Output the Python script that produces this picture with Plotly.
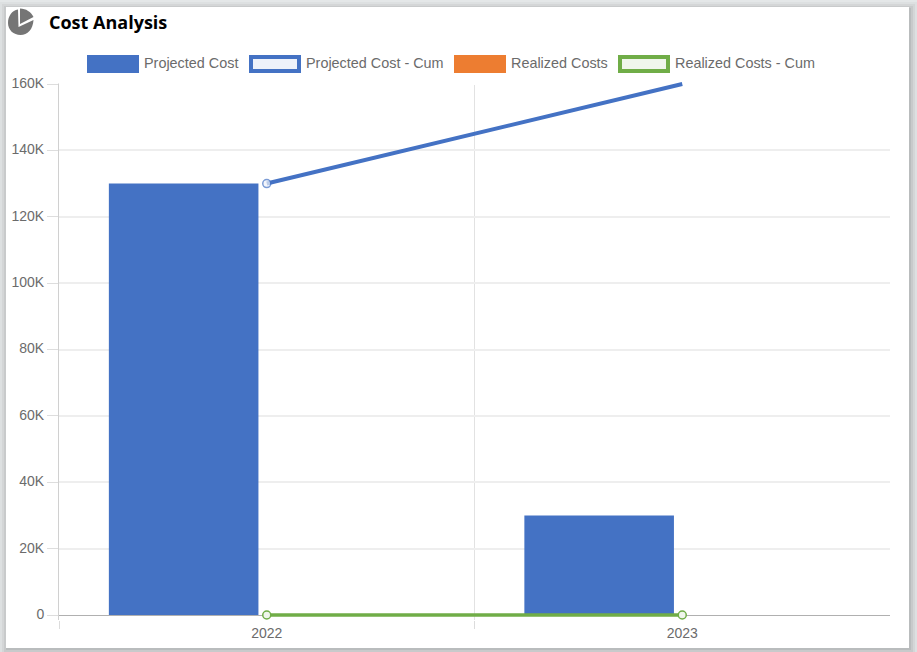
import plotly.graph_objects as go

WIDTH, HEIGHT = 917, 652
# plot area is a little taller than the axis range so the thick lines at 0 and 160K are not cut
LEFT, RIGHT, TOP, BOTTOM = 59, 890, 79, 620
Y_MAX = 160000
Y_PAD = 5 * Y_MAX / 531

years = ["2022", "2023"]
projected_cost = [130000, 30000]
projected_cum = [130000, 160000]
realized_costs = [0, 0]
realized_cum = [0, 0]
y_ticks = [0, 20000, 40000, 60000, 80000, 100000, 120000, 140000, 160000]
y_labels = ["0", "20K", "40K", "60K", "80K", "100K", "120K", "140K", "160K"]

BLUE = "#4472c4"
ORANGE = "#ed7d31"
GREEN = "#70ad47"
TEXT = "#6b6b6b"
FONT = "Liberation Sans, Arial, sans-serif"


def px(x):
    return (x - LEFT) / (RIGHT - LEFT)


def py(y):
    return (BOTTOM - y) / (BOTTOM - TOP)


def rect(x0, y0, x1, y1, fill, line=None, width=0, layer="below"):
    return dict(type="rect", xref="paper", yref="paper", x0=px(x0), x1=px(x1),
                y0=py(y1), y1=py(y0), fillcolor=fill, layer=layer,
                line=dict(color=line or fill, width=width))


def path(d, fill, layer="above"):
    return dict(type="path", xref="paper", yref="paper", path=d, fillcolor=fill,
                layer=layer, line=dict(width=0))


fig = go.Figure()
fig.add_bar(name="Projected Cost", x=years, y=projected_cost, marker=dict(color=BLUE, line=dict(width=0)))
fig.add_bar(name="Realized Costs", x=years, y=realized_costs, marker=dict(color=ORANGE, line=dict(width=0)))
fig.add_scatter(name="Projected Cost - Cum", x=years, y=projected_cum, mode="lines+markers", cliponaxis=False,
                line=dict(color=BLUE, width=4),
                marker=dict(size=[8, 0], color="#eef2fa", line=dict(color=BLUE, width=1.5)))
fig.add_scatter(name="Realized Costs - Cum", x=years, y=realized_cum, mode="lines+markers", cliponaxis=False,
                line=dict(color=GREEN, width=3.5),
                marker=dict(size=8, color="#f0f6ec", line=dict(color=GREEN, width=1.5)))

# card behind the chart, soft shadow made of stacked translucent boxes
shapes = []
for grow, alpha in [(8, 0.04), (6, 0.06), (4, 0.08), (2, 0.10)]:
    shapes.append(rect(6 - grow + 2, 7 - grow + 3, 909 + grow, 648 + grow, f"rgba(60,70,70,{alpha})"))
shapes.append(rect(6, 7, 909, 648, "#ffffff"))

# legend drawn by hand, the swatches are much wider than plotly's
legend_items = [
    ("Projected Cost", 87, BLUE, None),
    ("Projected Cost - Cum", 249, "#eef2fa", BLUE),
    ("Realized Costs", 454, ORANGE, None),
    ("Realized Costs - Cum", 618, "#f0f6ec", GREEN),
]
annotations = []
for name, x, fill, edge in legend_items:
    if edge:
        shapes.append(rect(x + 2, 57, x + 50, 71, fill, edge, 4, "above"))
    else:
        shapes.append(rect(x, 55, x + 52, 73, fill, layer="above"))
    annotations.append(dict(text=name, xref="paper", yref="paper", x=px(x + 55), y=py(63.5),
                            xanchor="left", yanchor="middle", showarrow=False,
                            font=dict(family=FONT, size=14.4, color=TEXT)))

annotations.append(dict(text="<b>Cost Analysis</b>", xref="paper", yref="paper", x=px(47), y=py(21.5),
                        xanchor="left", yanchor="middle", showarrow=False,
                        font=dict(family="Open Sans, sans-serif", size=18, color="#000000")))

# pie icon next to the title
ICON = "#757575"
shapes.append(path(
    f"M {px(18)} {py(9.5)} "
    f"C {px(12)} {py(10.5)} {px(8)} {py(16)} {px(8)} {py(23)} "
    f"C {px(8)} {py(30)} {px(13.5)} {py(35)} {px(20.5)} {py(35)} "
    f"C {px(27.5)} {py(35)} {px(33)} {py(29.5)} {px(33.5)} {py(20)} "
    f"L {px(18.5)} {py(27)} Z", ICON))
shapes.append(path(
    f"M {px(20)} {py(8.5)} C {px(26)} {py(8.5)} {px(31)} {py(12)} {px(33.5)} {py(17)} "
    f"L {px(20)} {py(24)} Z", ICON))

# the original has no line on 160K and nothing above it, and no tick at the far right
# "between" needs plain axis refs, paper refs end up below the grid
shapes.append(dict(type="rect", xref="x", yref="y", x0=-0.5, x1=1.5, y0=Y_MAX - 300, y1=Y_MAX + Y_PAD,
                   fillcolor="#ffffff", layer="between", line=dict(width=0)))
shapes.append(rect(57, TOP - 1, 61, 83.5, "#ffffff", layer="above"))
shapes.append(rect(RIGHT - 1, BOTTOM, RIGHT + 3, BOTTOM + 10, "#ffffff", layer="above"))

fig.update_layout(
    width=WIDTH, height=HEIGHT, autosize=False,
    margin=dict(l=LEFT, r=WIDTH - RIGHT, t=TOP, b=HEIGHT - BOTTOM, pad=0),
    paper_bgcolor="#e4e7e8", plot_bgcolor="rgba(0,0,0,0)",
    barmode="group", bargap=0.2, bargroupgap=0.1,
    showlegend=False, shapes=shapes, annotations=annotations,
    font=dict(family=FONT, size=14, color=TEXT),
)
fig.update_xaxes(type="category", range=[-0.5, 1.5], tickson="boundaries", ticks="outside", ticklen=8,
                 tickcolor="#dcdcdc", tickwidth=1, showgrid=True, gridcolor="#e2e2e2", gridwidth=1,
                 showline=False, zeroline=False, ticklabelstandoff=3,
                 tickfont=dict(size=14, color=TEXT), automargin=False)
fig.update_yaxes(range=[-Y_PAD, Y_MAX + Y_PAD], tickvals=y_ticks, ticktext=y_labels, ticks="outside", ticklen=11,
                 tickcolor="#dddddd", tickwidth=1, showgrid=True, gridcolor="#eeeeee", gridwidth=1.5,
                 showline=True, linecolor="#d0d0d0", linewidth=1,
                 zeroline=True, zerolinecolor="#b0b0b0", zerolinewidth=1, ticklabelshift=-1,
                 tickfont=dict(size=14, color=TEXT), automargin=False)

fig.write_html("out.html", config={"displayModeBar": False},
               post_script="document.body.style.margin='0';document.body.style.overflow='hidden';")
